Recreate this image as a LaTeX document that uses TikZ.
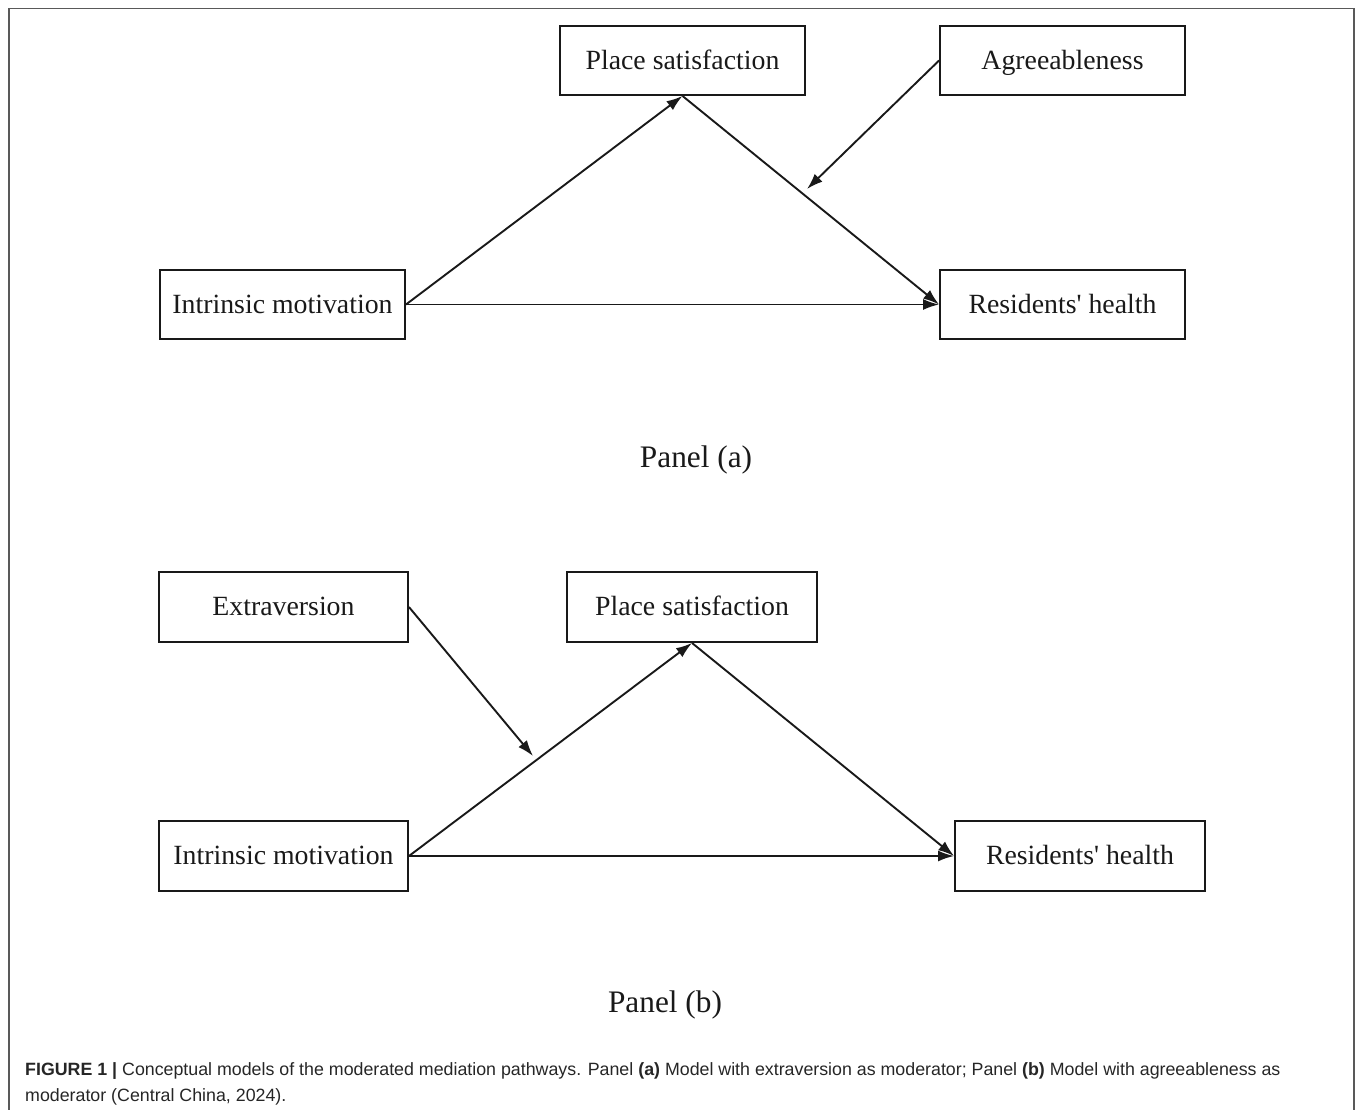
\documentclass[tikz,border=0pt]{standalone}
\usepackage{fontspec}
\setmainfont{Liberation Serif}[Ligatures=TeXOff]
\newfontfamily\capfont{Liberation Sans}
\usetikzlibrary{arrows.meta}
\begin{document}
\begin{tikzpicture}[x=1pt,y=-1pt,
  box/.style={draw=black!90,line width=1.9pt,minimum width=245pt,minimum height=69pt,inner sep=0pt,text height=21pt,text depth=3.5pt,font=\fontsize{27.8}{30}\selectfont,text=black!90},
  arr/.style={draw=black!90,line width=1.9pt,-{Latex[length=16pt,width=11pt]}},
  paneltxt/.style={font=\fontsize{31.3}{34}\selectfont,text=black!90}]
\useasboundingbox (0,0) rectangle (1355,1109);
\draw[line width=1.4pt,black!65] (9,1112) -- (9,8.5) -- (1354,8.5) -- (1354,1112);
% Panel (a)
\node[box] (psa) at (682.5,60.5) {Place satisfaction};
\node[box] (aga) at (1062.5,60.5) {Agreeableness};
\node[box] (ima) at (282.5,304.5) {Intrinsic motivation};
\node[box] (rha) at (1062.5,304.5) {Residents' health};
\draw[arr] (ima.east) -- (rha.west);
\draw[arr] (ima.east) -- (psa.south);
\draw[arr] (psa.south) -- (rha.west);
\coordinate (ma) at (807,189);
\draw[arr] (aga.west) -- (ma);
\node[paneltxt] (pa) at (696,460) {Panel (a)};
% Panel (b)
\node[box,minimum width=249pt,minimum height=70pt] (exb) at (283.5,607) {Extraversion};
\node[box,minimum width=250pt,minimum height=70pt] (psb) at (692,607) {Place satisfaction};
\node[box,minimum width=249pt,minimum height=70pt] (imb) at (283.5,856) {Intrinsic motivation};
\node[box,minimum width=250pt,minimum height=70pt] (rhb) at (1080,856) {Residents' health};
\draw[arr] (imb.east) -- (rhb.west);
\draw[arr] (imb.east) -- (psb.south);
\draw[arr] (psb.south) -- (rhb.west);
\coordinate (mb) at (533,756);
\draw[arr] (exb.east) -- (mb);
\node[paneltxt] (pb) at (665,1005) {Panel (b)};
% Caption
\node[anchor=base west,inner sep=0pt,align=left,text=black!85,font=\capfont\fontsize{17.8}{25.5}\selectfont] (cap) at (25,1101)
{\textbf{FIGURE 1 |} Conceptual models of the moderated mediation pathways. Panel \textbf{(a)} Model with extraversion as moderator; Panel \textbf{(b)} Model with agreeableness as\\moderator (Central China, 2024).};
\end{tikzpicture}
\end{document}
